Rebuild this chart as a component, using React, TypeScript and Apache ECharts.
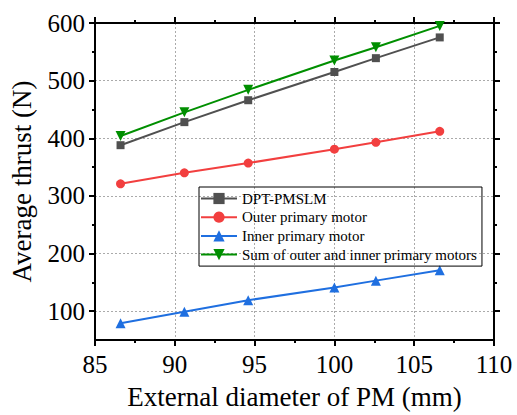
import React, { useEffect, useRef } from "react";
import * as echarts from "echarts";

const xValues = [86.6, 90.6, 94.6, 100, 102.6, 106.6];
const dptPmslm = [388, 428, 466, 515, 539, 575];
const outerPrimary = [321, 340, 357, 381, 393, 412];
const innerPrimary = [79, 99, 119, 141, 153, 171];
const sumOuterInner = [404, 445, 484, 535, 558, 595];

const yMajorTicks = [100, 200, 300, 400, 500, 600];
const yMinorTicks = [150, 250, 350, 450, 550];

const seriesNames = [
  "DPT-PMSLM",
  "Outer primary motor",
  "Inner primary motor",
  "Sum of outer and inner primary motors",
];

const FONT = "Liberation Serif";

export default function App() {
  const ref = useRef<HTMLDivElement>(null);
  useEffect(() => {
    if (!ref.current) return;
    const chart = echarts.init(ref.current, null, { renderer: "svg" });
    const pair = (ys: number[]) => xValues.map((x, i) => [x, ys[i]]);
    const axisLine = { show: true, onZero: false, lineStyle: { color: "#000", width: 2 } };
    const tick = { show: true, inside: false, length: 6, lineStyle: { color: "#000", width: 2 } };
    const minor = { show: true, splitNumber: 2, length: 3, lineStyle: { color: "#000", width: 2 } };
    const grid = { show: true, lineStyle: { color: "#aaa", type: [2, 2], width: 1 } };
    const mk = (name: string, ys: number[], color: string, symbol: string, size: number, rotate = 0) => ({
      name,
      type: "line",
      data: pair(ys),
      symbol,
      symbolSize: size,
      symbolRotate: rotate,
      itemStyle: { color },
      lineStyle: { color, width: 2 },
      xAxisIndex: 0,
      yAxisIndex: 0,
    });
    const yBase = { type: "value", min: 50, max: 600, interval: 50 };
    chart.setOption({
      animation: false,
      textStyle: { fontFamily: FONT },
      grid: { left: 91, right: 23, top: 23, bottom: 66 },
      legend: {
        show: true,
        data: seriesNames,
        orient: "vertical",
        left: 199,
        top: 187,
        padding: [4, 5, 4, 1],
        itemGap: 3.7,
        itemWidth: 36,
        itemHeight: 14,
        borderColor: "#000",
        borderWidth: 1,
        textStyle: { fontFamily: FONT, fontSize: 15, color: "#000" },
      },
      xAxis: [
        {
          type: "value",
          min: 85,
          max: 110,
          interval: 5,
          position: "bottom",
          axisLine,
          axisTick: tick,
          minorTick: minor,
          splitLine: grid,
          axisLabel: { fontFamily: FONT, fontSize: 25, color: "#000", margin: 12 },
          name: "External diameter of PM (mm)",
          nameLocation: "middle",
          nameGap: 43,
          nameTextStyle: { fontFamily: FONT, fontSize: 27, color: "#000" },
        },
        {
          type: "value",
          min: 85,
          max: 110,
          interval: 5,
          position: "top",
          axisLine,
          axisTick: tick,
          minorTick: minor,
          splitLine: { show: false },
          axisLabel: { show: false },
        },
      ],
      yAxis: [
        {
          ...yBase,
          position: "left",
          axisLine,
          axisTick: { ...tick, customValues: yMajorTicks },
          splitLine: grid,
          axisLabel: { fontFamily: FONT, fontSize: 25, color: "#000", margin: 10, customValues: yMajorTicks },
          name: "Average thrust (N)",
          nameLocation: "middle",
          nameGap: 60,
          nameTextStyle: { fontFamily: FONT, fontSize: 27, color: "#000" },
        },
        {
          ...yBase,
          position: "left",
          axisLine: { show: false },
          axisTick: { ...tick, length: 3, customValues: yMinorTicks },
          splitLine: { show: false },
          axisLabel: { show: false },
        },
        {
          ...yBase,
          position: "right",
          axisLine,
          axisTick: { ...tick, customValues: yMajorTicks },
          splitLine: { show: false },
          axisLabel: { show: false },
        },
        {
          ...yBase,
          position: "right",
          axisLine: { show: false },
          axisTick: { ...tick, length: 3, customValues: yMinorTicks },
          splitLine: { show: false },
          axisLabel: { show: false },
        },
      ],
      series: [
        mk(seriesNames[0], dptPmslm, "#505050", "rect", 8),
        mk(seriesNames[1], outerPrimary, "#f23f3f", "circle", 9),
        mk(seriesNames[2], innerPrimary, "#1f6fe0", "triangle", 10),
        mk(seriesNames[3], sumOuterInner, "#008f00", "triangle", 10, 180),
      ],
    });
    return () => chart.dispose();
  }, []);
  return <div ref={ref} style={{ width: 517, height: 415, position: "absolute", left: 0, top: 0 }} />;
}
